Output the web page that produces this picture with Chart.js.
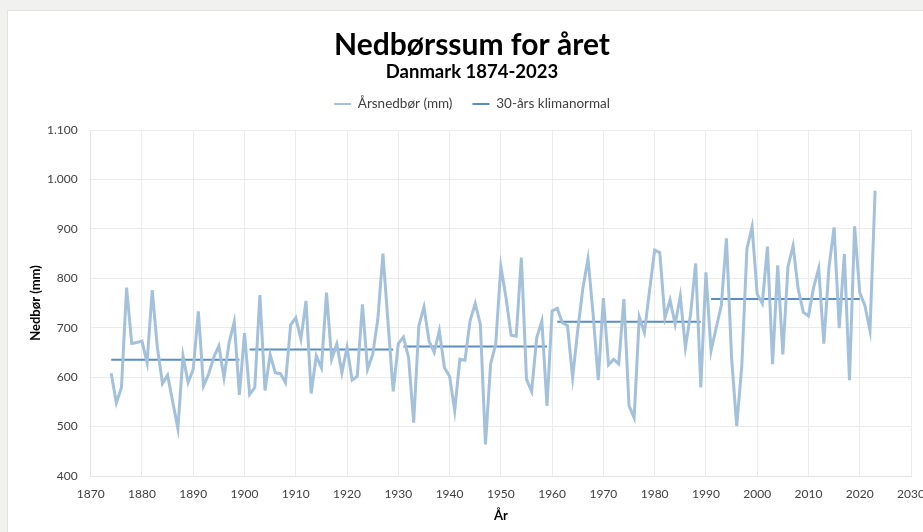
<!DOCTYPE html>
<html>
<head>
<meta charset="utf-8">
<script src="https://cdn.jsdelivr.net/npm/chart.js@4.4.1/dist/chart.umd.min.js"></script>
<style>
  html, body { margin: 0; padding: 0; background: #f1f1ef; overflow: hidden; width: 923px; height: 532px; }
  #card { position: absolute; left: 7px; top: 10px; width: 928px; height: 522px; background: #ffffff; border-top: 1px solid #e2e2e0; border-left: 1px solid #e2e2e0; box-sizing: border-box; }
  canvas { display: block; }
</style>
</head>
<body>
<div id="card"><canvas id="c" width="928" height="522"></canvas></div>
<script>
// ---- data ----
const firstYear = 1874;
const precipitation = [
  608, 548, 579, 781, 668, 670, 673, 629, 776, 660,   // 1874-1883
  587, 604, 550, 496, 643, 589, 616, 733, 582, 606,   // 1884-1893
  640, 663, 599, 670, 712, 564, 689, 565, 579, 766,   // 1894-1903
  573, 646, 609, 607, 589, 706, 720, 677, 754, 567,   // 1904-1913
  643, 619, 771, 636, 667, 609, 660, 594, 602, 747,   // 1914-1923
  616, 646, 717, 850, 710, 571, 668, 681, 640, 508,   // 1924-1933
  704, 742, 673, 650, 694, 619, 602, 532, 636, 634,   // 1934-1943
  714, 749, 707, 464, 626, 667, 824, 761, 685, 683,   // 1944-1953
  842, 596, 571, 680, 714, 542, 734, 739, 710, 704,   // 1954-1963
  599, 695, 780, 840, 727, 594, 760, 625, 636, 627,   // 1964-1973
  758, 542, 518, 722, 690, 775, 857, 852, 720, 756,   // 1974-1983
  707, 764, 660, 727, 830, 579, 812, 653, 700, 745,   // 1984-1993
  881, 640, 501, 623, 860, 904, 768, 749, 864, 626,   // 1994-2003
  826, 646, 823, 866, 778, 731, 724, 781, 820, 668,   // 2004-2013
  822, 903, 699, 849, 594, 905, 771, 745, 694, 977    // 2014-2023
];
const years = precipitation.map((_, i) => firstYear + i);
const normalStart = [1874, 1901, 1931, 1961, 1991];
const normalEnd   = [1899, 1929, 1959, 1989, 2020];
const normalValue = [635, 656, 662, 712, 758];
const xTicks = [1870, 1880, 1890, 1900, 1910, 1920, 1930, 1940, 1950, 1960, 1970, 1980, 1990, 2000, 2010, 2020, 2030];
const yTicks = [400, 500, 600, 700, 800, 900, 1000, 1100];

// ---- build series ----
const precipPoints = years.map((y, i) => ({ x: y, y: precipitation[i] }));
const normalPoints = [];
normalStart.forEach((s, i) => {
  for (let y = s; y <= normalEnd[i]; y++) normalPoints.push({ x: y, y: normalValue[i] });
  normalPoints.push({ x: normalEnd[i] + 0.5, y: null });
});

function fmtDa(v) {
  const s = String(Math.round(v));
  return s.replace(/\B(?=(\d{3})+(?!\d))/g, '.');
}

const FONT = "Lato, 'Open Sans', sans-serif";

const legendSpacer = {
  id: 'legendSpacer',
  beforeInit(chart) {
    const orig = chart.legend.fit;
    chart.legend.fit = function () { orig.call(this); this.height += 9.25; };
  }
};

new Chart(document.getElementById('c'), {
  type: 'line',
  data: {
    datasets: [
      {
        label: 'Årsnedbør (mm)',
        data: precipPoints,
        borderColor: '#a4c1dc',
        backgroundColor: '#a4c1dc',
        borderWidth: 3,
        pointRadius: 0,
        tension: 0,
        fill: false
      },
      {
        label: '30-års klimanormal',
        data: normalPoints,
        borderColor: '#5a8ec2',
        backgroundColor: '#5a8ec2',
        borderWidth: 2,
        pointRadius: 0,
        tension: 0,
        spanGaps: false,
        fill: false
      }
    ]
  },
  plugins: [legendSpacer],
  options: {
    responsive: false,
    animation: false,
    layout: { padding: { left: 25, right: 25, top: 0, bottom: 0 } },
    plugins: {
      title: {
        display: true,
        text: 'Nedbørssum for året',
        color: '#000000',
        font: { family: FONT, size: 30, weight: 'bold', lineHeight: 0.8 },
        padding: { top: 22, bottom: 10.4 }
      },
      subtitle: {
        display: true,
        text: 'Danmark 1874-2023',
        color: '#000000',
        font: { family: FONT, size: 18.5, weight: 'bold', lineHeight: 0.5 },
        padding: { top: 0, bottom: 0.6 }
      },
      legend: {
        display: true,
        position: 'top',
        labels: {
          color: '#404040',
          font: { family: FONT, size: 13.5 },
          usePointStyle: true,
          pointStyle: 'line',
          pointStyleWidth: 17,
          padding: 20,
          generateLabels(chart) {
            return chart.data.datasets.map((d, i) => ({
              text: d.label,
              strokeStyle: d.borderColor,
              fillStyle: d.borderColor,
              lineWidth: 2,
              pointStyle: 'line',
              hidden: false,
              datasetIndex: i,
              fontColor: '#404040'
            }));
          }
        }
      },
      tooltip: { enabled: false }
    },
    scales: {
      x: {
        type: 'linear',
        min: 1870,
        max: 2030,
        afterBuildTicks(scale) { scale.ticks = xTicks.map(v => ({ value: v })); },
        afterFit(scale) { scale.height = 57; },
        grid: { color: '#ebebeb', drawTicks: false },
        border: { color: '#e3e3e3' },
        ticks: {
          color: '#404040',
          font: { family: FONT, size: 12 },
          padding: 11,
          maxRotation: 0,
          autoSkip: false,
          callback: v => String(v)
        },
        title: {
          display: true,
          text: 'År',
          color: '#000000',
          font: { family: FONT, size: 13, weight: 'bold' },
          padding: { top: 0, bottom: 9 }
        }
      },
      y: {
        type: 'linear',
        min: 400,
        max: 1100,
        afterBuildTicks(scale) { scale.ticks = yTicks.map(v => ({ value: v })); },
        afterFit(scale) { scale.width = 57.7; },
        grid: { color: '#ebebeb', drawTicks: false },
        border: { color: '#e3e3e3' },
        ticks: {
          color: '#404040',
          font: { family: FONT, size: 12 },
          padding: 13,
          autoSkip: false,
          callback: v => fmtDa(v)
        },
        title: {
          display: true,
          text: 'Nedbør (mm)',
          color: '#000000',
          font: { family: FONT, size: 13, weight: 'bold' },
          padding: { top: -5, bottom: 0 }
        }
      }
    }
  }
});
</script>
</body>
</html>
